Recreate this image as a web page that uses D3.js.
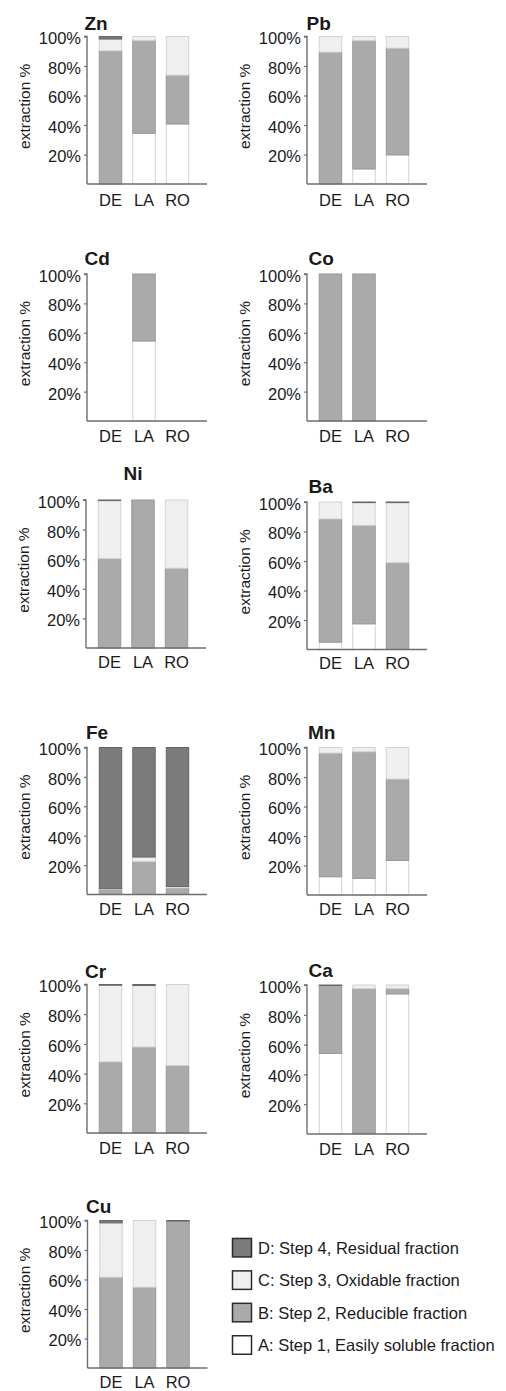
<!DOCTYPE html>
<html>
<head>
<meta charset="utf-8">
<script src="https://cdn.jsdelivr.net/npm/d3@7"></script>
<style>
  body { margin: 0; background: #fff; }
  svg { display: block; }
  text { font-family: "Liberation Sans", Arial, Helvetica, sans-serif; fill: #1a1a1a; }
</style>
</head>
<body>
<svg id="chart" width="506" height="1391"></svg>
<script>
// Sequential extraction results: share (%) of each fraction per element and site
const sites = ["DE", "LA", "RO"];
const elements = ["Zn", "Pb", "Cd", "Co", "Ni", "Ba", "Fe", "Mn", "Cr", "Ca", "Cu"];

// Step 1 – easily soluble fraction (A)
const stepA = [
  [0, 34.4, 40.7], [0, 10.2, 19.7], [0, 54.4, 0], [0, 0, 0], [0, 0, 0], [5, 17.4, 0],
  [0, 0, 0], [12.4, 11.3, 23.4], [0, 0, 0], [54.1, 0.5, 94], [0, 0, 0]
];
// Step 2 – reducible fraction (B)
const stepB = [
  [90.3, 62.9, 33.1], [89.4, 87.1, 72.4], [0, 45.6, 0], [100, 100, 0], [60.4, 100, 53.9], [83.5, 66.8, 58.8],
  [3.5, 22.5, 4.5], [83.8, 85.8, 55.2], [47.9, 57.9, 45.5], [45.2, 97.1, 3.6], [61.6, 54.8, 99.7]
];
// Step 3 – oxidable fraction (C)
const stepC = [
  [8.0, 2.7, 26.2], [10.6, 2.7, 7.9], [0, 0, 0], [0, 0, 0], [39.2, 0, 46.1], [11.5, 15.4, 40.8],
  [0.5, 3, 1], [3.8, 2.9, 21.4], [51.6, 41.4, 54.5], [0.2, 2.4, 2.4], [36.8, 45.2, 0]
];
// Step 4 – residual fraction (D)
const stepD = [
  [1.7, 0, 0], [0, 0, 0], [0, 0, 0], [0, 0, 0], [0.4, 0, 0], [0, 0.4, 0.4],
  [96, 74.5, 94.5], [0, 0, 0], [0.5, 0.7, 0], [0.5, 0, 0], [1.6, 0, 0.3]
];

const yTickValues = [20, 40, 60, 80, 100];
const fractionKeys = ["A", "B", "C", "D"];
const legendKeys = ["D", "C", "B", "A"];
const legendLabels = [
  "D: Step 4, Residual fraction",
  "C: Step 3, Oxidable fraction",
  "B: Step 2, Reducible fraction",
  "A: Step 1, Easily soluble fraction"
];

// Styling per fraction
const fill = { A: "#ffffff", B: "#aaaaaa", C: "#efefef", D: "#7b7b7b" };
const edge = { A: "#d2d2d2", B: "#979797", C: "#d2d2d2", D: "#666666" };

// Panel placement: y-axis x position, 100% line, 0% line, title anchor, site-label offset
const panelLayout = [
  { ax: 87,  top: 36.5,  base: 184,    tx: 84.5,  ty: 30,     anchor: "start",  ly: 22 },
  { ax: 307, top: 36.5,  base: 184,    tx: 306.5, ty: 29.5,   anchor: "start",  ly: 22 },
  { ax: 87,  top: 274,   base: 421,    tx: 84.5,  ty: 265,    anchor: "start",  ly: 21 },
  { ax: 307, top: 274,   base: 421,    tx: 308.5, ty: 264.5,  anchor: "start",  ly: 21 },
  { ax: 86,  top: 500,   base: 648,    tx: 133,   ty: 479.5,  anchor: "middle", ly: 19.5 },
  { ax: 307, top: 502,   base: 649.5,  tx: 308.5, ty: 492.5,  anchor: "start",  ly: 19.5 },
  { ax: 87,  top: 747.5, base: 894.5,  tx: 86,    ty: 739,    anchor: "start",  ly: 20 },
  { ax: 307, top: 747.5, base: 895,    tx: 308,   ty: 738.5,  anchor: "start",  ly: 20 },
  { ax: 87,  top: 984.5, base: 1133,   tx: 85,    ty: 977.5,  anchor: "start",  ly: 21 },
  { ax: 307, top: 985,   base: 1134,   tx: 308.5, ty: 977,    anchor: "start",  ly: 21 },
  { ax: 87.5,top: 1220.5,base: 1368,   tx: 86,    ty: 1212.5, anchor: "start",  ly: 19.5 }
];

const svg = d3.select("#chart");
const stack = d3.stack().keys(fractionKeys);

elements.forEach((el, i) => {
  const L = panelLayout[i];
  const g = svg.append("g").attr("class", "panel");

  const rows = sites.map((s, j) => ({
    site: s, A: stepA[i][j], B: stepB[i][j], C: stepC[i][j], D: stepD[i][j]
  }));
  const series = stack(rows);

  const x = d3.scaleBand().domain(sites)
    .range([L.ax + 6.75, L.ax + 107.25])
    .paddingInner(0.3).paddingOuter(0.15);
  const y = d3.scaleLinear().domain([0, 100]).range([L.base, L.top]);

  // stacked bars
  series.forEach(s => {
    g.append("g").selectAll("rect")
      .data(s.filter(d => d[1] - d[0] > 0))
      .join("rect")
      .attr("x", d => x(d.data.site) + 0.5)
      .attr("width", x.bandwidth() - 1)
      .attr("y", d => y(d[1]))
      .attr("height", d => y(d[0]) - y(d[1]))
      .attr("fill", fill[s.key])
      .attr("stroke", edge[s.key])
      .attr("stroke-width", 1);
  });

  // y axis
  const yAxis = d3.axisLeft(y).tickValues(yTickValues)
    .tickFormat(d => d + "%").tickSize(3).tickPadding(3);
  const ya = g.append("g").attr("transform", `translate(${L.ax},0)`).call(yAxis);
  ya.select(".domain").attr("stroke", "#6e6e6e").attr("stroke-width", 1.4)
    .attr("d", `M-3,${L.top}H0V${L.base}`);
  ya.selectAll(".tick line").attr("stroke", "#6e6e6e").attr("stroke-width", 1.2);
  ya.selectAll(".tick text").attr("font-size", 16.5).attr("fill", "#1a1a1a")
    .attr("font-family", "'Liberation Sans', Arial, sans-serif").attr("dy", "0.45em");

  // x axis
  const xAxis = d3.axisBottom(x).tickSize(0).tickPadding(0);
  const xa = g.append("g").attr("transform", `translate(0,${L.base})`).call(xAxis);
  xa.select(".domain").attr("stroke", "#6e6e6e").attr("stroke-width", 1.4)
    .attr("d", `M${L.ax},0H${L.ax + 120}`);
  xa.selectAll(".tick text").attr("font-size", 16.5).attr("fill", "#1a1a1a")
    .attr("font-family", "'Liberation Sans', Arial, sans-serif")
    .attr("dy", null).attr("y", L.ly);

  // axis title
  g.append("text")
    .attr("transform", `translate(${L.ax - 63},${(L.top + L.base) / 2 - 4}) rotate(-90)`)
    .attr("text-anchor", "middle").attr("dominant-baseline", "central")
    .attr("font-size", 15.5).text("extraction %");

  // element label
  g.append("text").attr("x", L.tx).attr("y", L.ty)
    .attr("text-anchor", L.anchor).attr("font-size", 19).attr("font-weight", "bold")
    .attr("fill", "#000").text(el);
});

// legend
const legend = svg.append("g").attr("class", "legend");
const ly = d3.scalePoint().domain(legendKeys).range([1247.7, 1345]);
legendKeys.forEach((k, i) => {
  legend.append("rect")
    .attr("x", 232.5).attr("y", ly(k) - 9.25).attr("width", 19).attr("height", 18.5)
    .attr("fill", fill[k]).attr("stroke", "#2b2b2b").attr("stroke-width", 1.5);
  legend.append("text")
    .attr("x", 258).attr("y", ly(k)).attr("dominant-baseline", "central")
    .attr("font-size", 16.5).text(legendLabels[i]);
});
</script>
</body>
</html>
